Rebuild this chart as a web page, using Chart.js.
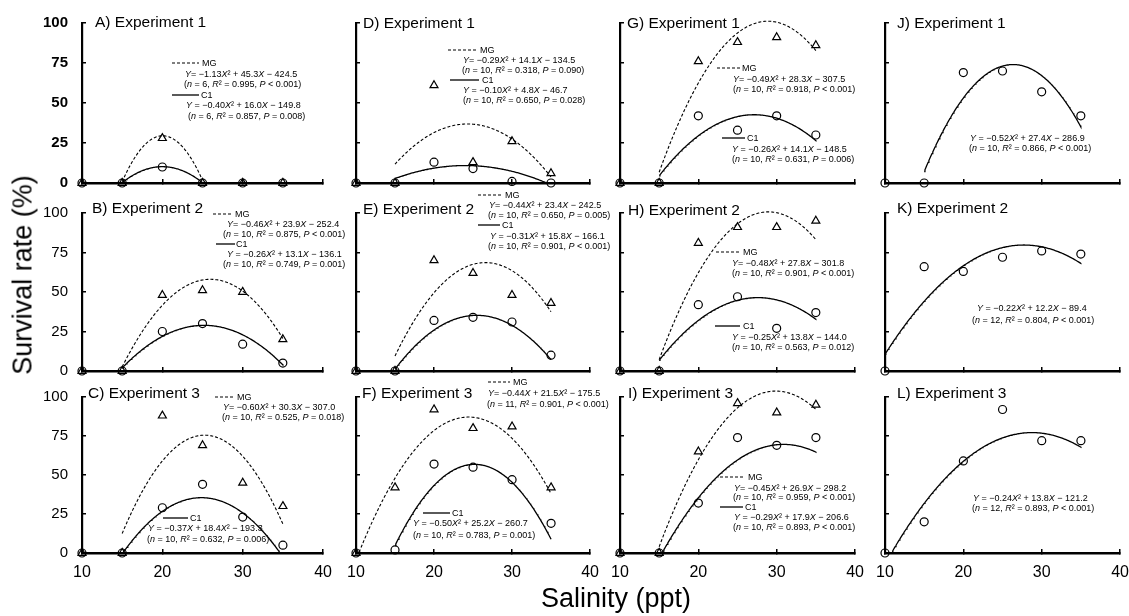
<!DOCTYPE html>
<html>
<head>
<meta charset="utf-8">
<script src="https://cdn.jsdelivr.net/npm/chart.js@4.4.1/dist/chart.umd.min.js"></script>
<style>
  html, body { margin: 0; padding: 0; background: #fff; }
  #fig { position: relative; width: 1129px; height: 616px; overflow: hidden;
         font-family: "Liberation Sans", Arial, sans-serif; color: #000; }
  #fig canvas { position: absolute; }
  .t { position: absolute; white-space: nowrap; line-height: 1; transform: translateY(-50%); }
  .note { font-size: 9px; }
  .title { font-size: 15.5px; }
  .axis-title { position: absolute; white-space: nowrap; line-height: 1; font-size: 27px; }
  svg.key { position: absolute; overflow: visible; }
</style>
</head>
<body>
<div id="fig"></div>
<script>
// ---- data -------------------------------------------------------------
const salinity = [10, 15, 20, 25, 30, 35];
const xTicks = [10, 20, 30, 40];
const yTicks = [0, 25, 50, 75, 100];

// survival (%) per salinity, MG = triangles, C1 = circles
const mgA = [0, 0, 28, 0, 0, 0];
const c1A = [0, 0, 10, 0, 0, 0];
const mgB = [0, 0, 48, 51, 50, 20];
const c1B = [0, 0, 25, 30, 17, 5];
const mgC = [0, 0, 88, 69, 45, 30];
const c1C = [0, 0, 29, 44, 23, 5];
const mgD = [0, 0, 61, 13, 26, 6];
const c1D = [0, 0, 13, 9, 1, 0];
const mgE = [0, 0, 70, 62, 48, 43];
const c1E = [0, 0, 32, 34, 31, 10];
const mgF = [0, 42, 92, 80, 81, 42];
const c1F = [0, 2, 57, 55, 47, 19];
const mgG = [0, 0, 76, 88, 91, 86];
const c1G = [0, 0, 42, 33, 42, 30];
const mgH = [0, 0, 81, 91, 91, 95];
const c1H = [0, 0, 42, 47, 27, 37];
const mgI = [0, 0, 65, 96, 90, 95];
const c1I = [0, 0, 32, 74, 69, 74];
const c1J = [0, 0, 69, 70, 57, 42];
const c1K = [0, 66, 63, 72, 76, 74];
const c1L = [0, 20, 59, 92, 72, 72];

// quadratic fits  Y = a·X² + b·X + c   and the salinity span they cover
const fitMgA = [-1.13, 45.3, -424.5];  const spanMgA = [15, 25];
const fitC1A = [-0.40, 16.0, -149.8];  const spanC1A = [15, 25];
const fitMgB = [-0.46, 23.9, -252.4];  const spanMgB = [15, 35];
const fitC1B = [-0.26, 13.1, -136.1];  const spanC1B = [15, 35];
const fitMgC = [-0.60, 30.3, -307.0];  const spanMgC = [15, 35];
const fitC1C = [-0.37, 18.4, -193.3];  const spanC1C = [15, 35];
const fitMgD = [-0.29, 14.1, -134.5];  const spanMgD = [15, 35];
const fitC1D = [-0.10, 4.8, -46.7];    const spanC1D = [15, 35];
const fitMgE = [-0.44, 23.4, -242.5];  const spanMgE = [15, 35];
const fitC1E = [-0.31, 15.8, -166.1];  const spanC1E = [15, 35];
const fitMgF = [-0.44, 21.5, -175.5];  const spanMgF = [10, 35];
const fitC1F = [-0.50, 25.2, -260.7];  const spanC1F = [15, 35];
const fitMgG = [-0.49, 28.3, -307.5];  const spanMgG = [15, 35];
const fitC1G = [-0.26, 14.1, -148.5];  const spanC1G = [15, 35];
const fitMgH = [-0.48, 27.8, -301.8];  const spanMgH = [15, 35];
const fitC1H = [-0.25, 13.8, -144.0];  const spanC1H = [15, 35];
const fitMgI = [-0.45, 26.9, -298.2];  const spanMgI = [15, 35];
const fitC1I = [-0.29, 17.9, -206.6];  const spanC1I = [15, 35];
const fitC1J = [-0.52, 27.4, -286.9];  const spanC1J = [15, 35];
const fitC1K = [-0.22, 12.2, -89.4];   const spanC1K = [10, 35];
const fitC1L = [-0.24, 13.8, -121.2];  const spanC1L = [10, 35];

// panel titles
const titles = ['A) Experiment 1', 'B) Experiment 2', 'C) Experiment 3',
                'D) Experiment 1', 'E) Experiment 2', 'F) Experiment 3',
                'G) Experiment 1', 'H) Experiment 2', 'I) Experiment 3',
                'J) Experiment 1', 'K) Experiment 2', 'L) Experiment 3'];

// regression statements
const eqMgA = ['Y= −1.13X² + 45.3X − 424.5', '(n = 6, R² = 0.995, P < 0.001)'];
const eqC1A = ['Y = −0.40X² + 16.0X − 149.8', '(n = 6, R² = 0.857, P = 0.008)'];
const eqMgB = ['Y= −0.46X² + 23.9X − 252.4', '(n = 10, R² = 0.875, P < 0.001)'];
const eqC1B = ['Y = −0.26X² + 13.1X − 136.1', '(n = 10, R² = 0.749, P = 0.001)'];
const eqMgC = ['Y= −0.60X² + 30.3X − 307.0', '(n = 10, R² = 0.525, P = 0.018)'];
const eqC1C = ['Y = −0.37X + 18.4X² − 193.3', '(n = 10, R² = 0.632, P = 0.006)'];
const eqMgD = ['Y= −0.29X² + 14.1X − 134.5', '(n = 10, R² = 0.318, P = 0.090)'];
const eqC1D = ['Y = −0.10X² + 4.8X − 46.7', '(n = 10, R² = 0.650, P = 0.028)'];
const eqMgE = ['Y= −0.44X² + 23.4X − 242.5', '(n = 10, R² = 0.650, P = 0.005)'];
const eqC1E = ['Y = −0.31X² + 15.8X − 166.1', '(n = 10, R² = 0.901, P < 0.001)'];
const eqMgF = ['Y= −0.44X + 21.5X² − 175.5', '(n = 11, R² = 0.901, P < 0.001)'];
const eqC1F = ['Y = −0.50X² + 25.2X − 260.7', '(n = 10, R² = 0.783, P = 0.001)'];
const eqMgG = ['Y= −0.49X² + 28.3X − 307.5', '(n = 10, R² = 0.918, P < 0.001)'];
const eqC1G = ['Y = −0.26X² + 14.1X − 148.5', '(n = 10, R² = 0.631, P = 0.006)'];
const eqMgH = ['Y= −0.48X² + 27.8X − 301.8', '(n = 10, R² = 0.901, P < 0.001)'];
const eqC1H = ['Y = −0.25X² + 13.8X − 144.0', '(n = 10, R² = 0.563, P = 0.012)'];
const eqMgI = ['Y= −0.45X² + 26.9X − 298.2', '(n = 10, R² = 0.959, P < 0.001)'];
const eqC1I = ['Y = −0.29X² + 17.9X − 206.6', '(n = 10, R² = 0.893, P < 0.001)'];
const eqC1J = ['Y = −0.52X² + 27.4X − 286.9', '(n = 10, R² = 0.866, P < 0.001)'];
const eqC1K = ['Y = −0.22X² + 12.2X − 89.4', '(n = 12, R² = 0.804, P < 0.001)'];
const eqC1L = ['Y = −0.24X² + 13.8X − 121.2', '(n = 12, R² = 0.893, P < 0.001)'];

const yTitle = 'Survival rate (%)';
const xTitle = 'Salinity (ppt)';

// ---- layout -----------------------------------------------------------
const COL_X = [[82, 323], [356, 590], [620, 855], [885, 1120]];   // pixel of x=10 / x=40
const ROW_Y = [[23, 183], [213, 371], [397, 553]];                 // pixel of y=100 / y=0
const PAD = { l: 45, r: 14, t: 14, b: 35 };
const FONT = '"Liberation Sans", Arial, sans-serif';

// [letter, row, col, mg, c1, fitMg, spanMg, fitC1, spanC1, eqMg, eqC1]
const panels = [
  ['A', 0, 0, mgA, c1A, fitMgA, spanMgA, fitC1A, spanC1A, eqMgA, eqC1A],
  ['B', 1, 0, mgB, c1B, fitMgB, spanMgB, fitC1B, spanC1B, eqMgB, eqC1B],
  ['C', 2, 0, mgC, c1C, fitMgC, spanMgC, fitC1C, spanC1C, eqMgC, eqC1C],
  ['D', 0, 1, mgD, c1D, fitMgD, spanMgD, fitC1D, spanC1D, eqMgD, eqC1D],
  ['E', 1, 1, mgE, c1E, fitMgE, spanMgE, fitC1E, spanC1E, eqMgE, eqC1E],
  ['F', 2, 1, mgF, c1F, fitMgF, spanMgF, fitC1F, spanC1F, eqMgF, eqC1F],
  ['G', 0, 2, mgG, c1G, fitMgG, spanMgG, fitC1G, spanC1G, eqMgG, eqC1G],
  ['H', 1, 2, mgH, c1H, fitMgH, spanMgH, fitC1H, spanC1H, eqMgH, eqC1H],
  ['I', 2, 2, mgI, c1I, fitMgI, spanMgI, fitC1I, spanC1I, eqMgI, eqC1I],
  ['J', 0, 3, null, c1J, null, null, fitC1J, spanC1J, null, eqC1J],
  ['K', 1, 3, null, c1K, null, null, fitC1K, spanC1K, null, eqC1K],
  ['L', 2, 3, null, c1L, null, null, fitC1L, spanC1L, null, eqC1L]
];

// title anchor (left, middle) per panel
const titlePos = [[95, 22], [92, 208], [88, 393], [363, 23], [363, 209], [362, 393],
                  [627, 23], [628, 210], [628, 393], [897, 23], [897, 208], [897, 393]];

// annotation blocks: key line (x1, x2, y), key label x, then equation / stats anchors
const notePos = {
  A: { mg: { key: [172, 199, 63], lab: 202, eq: [185, 74], st: [184, 84] },
       c1: { key: [172, 199, 95], lab: 201, eq: [186, 105], st: [188, 116] } },
  B: { mg: { key: [213, 233, 214], lab: 235, eq: [227, 224], st: [223, 234] },
       c1: { key: [216, 235, 244], lab: 236, eq: [227, 254], st: [223, 264] } },
  C: { mg: { key: [215, 235, 397], lab: 237, eq: [223, 407], st: [222, 417] },
       c1: { key: [163, 188, 518], lab: 190, eq: [148, 528], st: [147, 539] } },
  D: { mg: { key: [448, 477, 50], lab: 480, eq: [463, 60], st: [462, 70] },
       c1: { key: [450, 479, 80], lab: 482, eq: [463, 90], st: [463, 100] } },
  E: { mg: { key: [478, 502, 195], lab: 505, eq: [489, 205], st: [488, 215] },
       c1: { key: [478, 500, 225], lab: 502, eq: [490, 236], st: [488, 246] } },
  F: { mg: { key: [488, 510, 382], lab: 513, eq: [488, 393], st: [487, 404] },
       c1: { key: [423, 450, 513], lab: 452, eq: [413, 523], st: [413, 535] } },
  G: { mg: { key: [717, 740, 68], lab: 742, eq: [733, 79], st: [733, 89] },
       c1: { key: [722, 745, 138], lab: 747, eq: [732, 149], st: [732, 159] } },
  H: { mg: { key: [716, 740, 252], lab: 743, eq: [732, 263], st: [732, 273] },
       c1: { key: [715, 740, 326], lab: 743, eq: [732, 337], st: [732, 347] } },
  I: { mg: { key: [720, 745, 477], lab: 748, eq: [734, 488], st: [733, 497] },
       c1: { key: [720, 743, 507], lab: 745, eq: [734, 517], st: [733, 527] } },
  J: { c1: { eq: [970, 138], st: [969, 148] } },
  K: { c1: { eq: [977, 308], st: [972, 320] } },
  L: { c1: { eq: [973, 498], st: [972, 508] } }
};

// ---- helpers ----------------------------------------------------------
const fig = document.getElementById('fig');

function toPoints(vals) {
  return salinity.map((x, i) => ({ x, y: vals[i] }));
}

// sample the fitted parabola across its span, keeping the non-negative part
function fitLine(coef, span) {
  const pts = [];
  for (let k = 0; ; k++) {
    const x = span[0] + k * 0.1;
    if (x > span[1] + 1e-9) break;
    const y = coef[0] * x * x + coef[1] * x + coef[2];
    if (y >= 0) pts.push({ x, y });
  }
  return pts;
}

function fmt(s) {
  return s.replace(/</g, '&lt;').replace(/[YXnRP]/g, m => '<i>' + m + '</i>');
}

function addText(html, x, y, cls) {
  const d = document.createElement('div');
  d.className = 't ' + cls;
  d.style.left = x + 'px';
  d.style.top = y + 'px';
  d.innerHTML = html;
  fig.appendChild(d);
}

function addKey(x1, x2, y, dashed) {
  const ns = 'http://www.w3.org/2000/svg';
  const svg = document.createElementNS(ns, 'svg');
  svg.setAttribute('class', 'key');
  svg.setAttribute('width', x2 - x1);
  svg.setAttribute('height', 2);
  svg.style.left = x1 + 'px';
  svg.style.top = (y - 1) + 'px';
  const ln = document.createElementNS(ns, 'line');
  ln.setAttribute('x1', 0); ln.setAttribute('x2', x2 - x1);
  ln.setAttribute('y1', 1); ln.setAttribute('y2', 1);
  ln.setAttribute('stroke', '#000');
  ln.setAttribute('stroke-width', dashed ? 1.1 : 1.3);
  if (dashed) ln.setAttribute('stroke-dasharray', '3 2');
  svg.appendChild(ln);
  fig.appendChild(svg);
}

Chart.defaults.font.family = FONT;
Chart.defaults.color = '#000';

function makeConfig(p) {
  const [letter, row, col, mg, c1, fitMg, spanMg, fitC1, spanC1] = p;
  const datasets = [];
  if (mg) {
    datasets.push({ data: fitLine(fitMg, spanMg), showLine: true, pointRadius: 0,
      borderColor: '#000', borderWidth: 1.1, borderDash: [3, 2], fill: false, clip: false, order: 2 });
    datasets.push({ data: toPoints(mg), pointStyle: 'triangle', pointRadius: 4.6,
      pointBorderColor: '#000', pointBackgroundColor: 'rgba(0,0,0,0)', pointBorderWidth: 1.2,
      showLine: false, clip: false, order: 1 });
  }
  datasets.push({ data: fitLine(fitC1, spanC1), showLine: true, pointRadius: 0,
    borderColor: '#000', borderWidth: 1.3, fill: false, clip: false, order: 2 });
  datasets.push({ data: toPoints(c1), pointStyle: 'circle', pointRadius: 4,
    pointBorderColor: '#000', pointBackgroundColor: 'rgba(0,0,0,0)', pointBorderWidth: 1.2,
    showLine: false, clip: false, order: 1 });

  const gridOpts = { display: true, drawOnChartArea: false, drawTicks: true,
                     tickLength: -4, color: '#000', lineWidth: 1.5 };

  return {
    type: 'scatter',
    data: { datasets },
    options: {
      responsive: false, maintainAspectRatio: false, animation: false, devicePixelRatio: 1,
      layout: { autoPadding: false, padding: { left: 0, right: PAD.r, top: PAD.t, bottom: 0 } },
      plugins: { legend: { display: false }, tooltip: { enabled: false } },
      events: [],
      scales: {
        x: {
          type: 'linear', min: xTicks[0], max: xTicks[xTicks.length - 1],
          afterBuildTicks: s => { s.ticks = xTicks.map(v => ({ value: v })); },
          ticks: { display: row === 2, font: { size: 16 }, color: '#000',
                   padding: 14, maxRotation: 0, autoSkip: false },
          grid: gridOpts,
          border: { display: true, color: '#000', width: 2.5 },
          afterFit: s => { s.height = PAD.b; }
        },
        y: {
          type: 'linear', min: yTicks[0], max: yTicks[yTicks.length - 1],
          afterBuildTicks: s => { s.ticks = yTicks.map(v => ({ value: v })); },
          ticks: { display: col === 0, font: { size: 15, weight: row === 0 ? 'bold' : 'normal' },
                   color: '#000', padding: 18 },
          grid: gridOpts,
          border: { display: true, color: '#000', width: 2.2 },
          afterFit: s => { s.width = PAD.l; }
        }
      }
    }
  };
}

function buildChart(p, W, H) {
  const cv = document.createElement('canvas');
  cv.width = W; cv.height = H;
  cv.style.width = W + 'px'; cv.style.height = H + 'px';
  fig.appendChild(cv);
  const chart = new Chart(cv, makeConfig(p));
  return { cv, chart };
}

// ---- panels -----------------------------------------------------------
panels.forEach((p, idx) => {
  const row = p[1], col = p[2];
  const [x10, x40] = COL_X[col];
  const [y100, y0] = ROW_Y[row];
  const wantW = x40 - x10, wantH = y0 - y100;
  let W = wantW + PAD.l + PAD.r;
  let H = wantH + PAD.t + PAD.b;

  // build once, then correct the canvas size so the plot area spans exactly the axis range
  let built = buildChart(p, W, H);
  let ca = built.chart.chartArea;
  const dw = wantW - (ca.right - ca.left);
  const dh = wantH - (ca.bottom - ca.top);
  if (Math.abs(dw) > 0.5 || Math.abs(dh) > 0.5) {
    built.chart.destroy();
    built.cv.remove();
    W += Math.round(dw); H += Math.round(dh);
    built = buildChart(p, W, H);
    ca = built.chart.chartArea;
  }
  built.cv.style.left = (x10 - ca.left) + 'px';
  built.cv.style.top = (y100 - ca.top) + 'px';

  addText(titles[idx], titlePos[idx][0], titlePos[idx][1], 'title');
});

// ---- annotations ------------------------------------------------------
panels.forEach(p => {
  const letter = p[0], eqMg = p[9], eqC1 = p[10];
  const pos = notePos[letter];
  if (eqMg && pos.mg) {
    addKey(pos.mg.key[0], pos.mg.key[1], pos.mg.key[2], true);
    addText('MG', pos.mg.lab, pos.mg.key[2], 'note');
    addText(fmt(eqMg[0]), pos.mg.eq[0], pos.mg.eq[1], 'note');
    addText(fmt(eqMg[1]), pos.mg.st[0], pos.mg.st[1], 'note');
  }
  if (pos.c1.key) {
    addKey(pos.c1.key[0], pos.c1.key[1], pos.c1.key[2], false);
    addText('C1', pos.c1.lab, pos.c1.key[2], 'note');
  }
  addText(fmt(eqC1[0]), pos.c1.eq[0], pos.c1.eq[1], 'note');
  addText(fmt(eqC1[1]), pos.c1.st[0], pos.c1.st[1], 'note');
});

// ---- axis titles ------------------------------------------------------
const yt = document.createElement('div');
yt.className = 'axis-title';
yt.textContent = yTitle;
yt.style.left = '23px';
yt.style.top = '275px';
yt.style.transform = 'translate(-50%, -50%) rotate(-90deg)';
fig.appendChild(yt);

const xt = document.createElement('div');
xt.className = 'axis-title';
xt.textContent = xTitle;
xt.style.left = '616px';
xt.style.top = '598px';
xt.style.transform = 'translate(-50%, -50%)';
fig.appendChild(xt);
</script>
</body>
</html>
